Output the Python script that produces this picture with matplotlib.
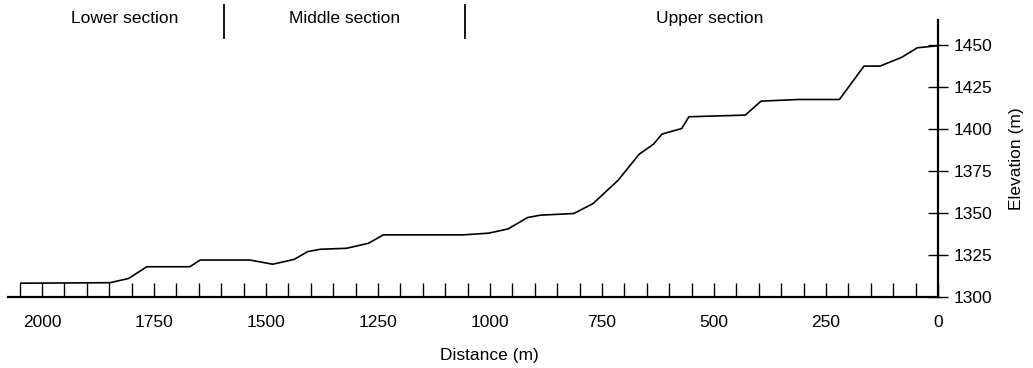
import matplotlib.pyplot as plt
import matplotlib.transforms as mtransforms
import numpy as np

# longitudinal profile, distance from top (m) and elevation (m)
distance = [2047, 1848, 1807, 1766, 1670, 1647, 1536, 1485, 1437, 1407, 1379, 1320,
            1271, 1238, 1059, 1003, 960, 916, 888, 813, 770, 714, 667, 635, 616,
            572, 556, 430, 395, 311, 220, 165, 129, 81, 46, 0]
elevation = [1308.2, 1308.5, 1311, 1318, 1318, 1322, 1322, 1319.5, 1322.4, 1327,
             1328.4, 1329, 1332, 1337, 1337, 1338, 1340.5, 1347.3, 1348.7, 1349.7,
             1355.6, 1369.5, 1385, 1391, 1397, 1400.3, 1407.3, 1408.3, 1416.6,
             1417.6, 1417.6, 1437.5, 1437.5, 1442.7, 1448.4, 1449.6]

sections = ['Lower section', 'Middle section', 'Upper section']
section_mid = [1815, 1324, 509]
section_breaks = [1594, 1056]

plt.rcParams['font.family'] = ['Liberation Sans', 'DejaVu Sans']

fig = plt.figure(figsize=(10.33, 3.68), dpi=100)
ax = fig.add_axes([0.0077, 0.193, 0.9003, 0.753])

ax.plot(distance, elevation, color='black', lw=1.2)

ax.set_xlim(2076, 0)
ax.set_ylim(1300, 1465)

ax.spines['top'].set_visible(False)
ax.spines['left'].set_visible(False)
ax.spines['bottom'].set_linewidth(1.6)
ax.spines['right'].set_linewidth(1.6)

ax.set_xticks(np.arange(0, 2001, 250))
ax.set_xticks(np.arange(0, 2051, 50), minor=True)
ax.tick_params(axis='x', which='both', direction='in', length=10, width=1,
               labelsize=12.5, pad=13)

ax.yaxis.tick_right()
ax.yaxis.set_label_position('right')
ax.set_yticks(np.arange(1300, 1451, 25))
ax.tick_params(axis='y', direction='inout', length=15, width=1,
               labelsize=12.5, pad=4)

ax.set_xlabel('Distance (m)', fontsize=12.5)
ax.xaxis.set_label_coords(0.518, -0.185)
ax.set_ylabel('Elevation (m)', fontsize=12.5, labelpad=12, rotation=90)

trans = mtransforms.blended_transform_factory(ax.transData, ax.transAxes)
for name, xm in zip(sections, section_mid):
    ax.text(xm, 1.005, name, transform=trans, ha='center', va='center',
            fontsize=12.5, clip_on=False)
for xb in section_breaks:
    ax.plot([xb, xb], [0.935, 1.053], transform=trans, color='black',
            lw=1.3, clip_on=False)

fig.savefig('out.png', dpi=100)
